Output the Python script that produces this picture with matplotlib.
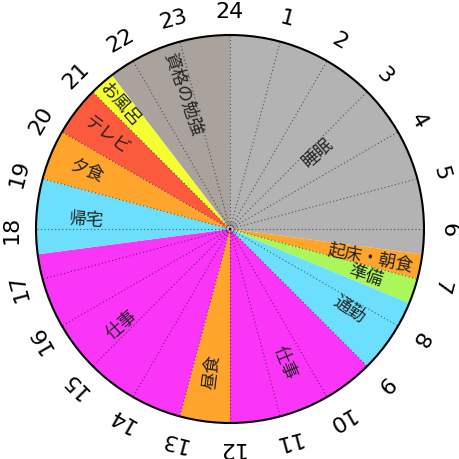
import numpy as np
import matplotlib
matplotlib.use("Agg")
import matplotlib.pyplot as plt
from matplotlib.patches import Circle

# 一日の予定 (時間)
activities = ["睡眠", "起床・朝食", "準備", "通勤", "仕事", "昼食",
              "仕事", "帰宅", "夕食", "テレビ", "お風呂", "資格の勉強"]
hours = [6.5, 0.5, 0.5, 1.5, 3, 1, 4.5, 1.5, 1, 1, 0.5, 2.5]
hour_labels = [str(h) for h in range(1, 25)]

colors = ["#b3b3b3", "#ffa52b", "#aaf75a", "#6cdffc", "#fb35f7", "#ffa52b",
          "#fb35f7", "#6cdffc", "#ffa52b", "#fb5a3c", "#f5ff30", "#aaa29c"]

# ラベル位置 (半径比)
label_r = {0: 0.60, 9: 0.80, 8: 0.80, 10: 0.86}

R_PX = 194.0
lim = 230.0 / R_PX

fig = plt.figure(figsize=(4.6, 4.6), dpi=100)
ax = fig.add_axes([0, 0, 1, 1])

ax.pie(hours, colors=colors, startangle=90, counterclock=False, radius=1,
       wedgeprops=dict(linewidth=0))

# 毎時の点線
for h in range(24):
    a = np.deg2rad(90 - 15 * h)
    ax.plot([0, np.cos(a)], [0, np.sin(a)], color="black", alpha=0.55, lw=0.8,
            ls=(0, (1, 2.2)), zorder=3)

ax.add_patch(Circle((0, 0), 1, fill=False, ec="black", lw=1.5, zorder=4))
ax.add_patch(Circle((0, 0), 0.03, fill=False, ec="#666666", lw=0.6,
                    ls=(0, (1, 1)), zorder=4))

# 項目ラベル
start = 0.0
for i, (name, d) in enumerate(zip(activities, hours)):
    mid = start + d / 2
    start += d
    a = np.deg2rad(90 - 15 * mid)
    r = label_r.get(i, 0.74)
    if mid <= 12:
        rot = 90 - 15 * mid
    else:
        rot = 270 - 15 * mid
    ax.text(r * np.cos(a), r * np.sin(a), name, rotation=rot,
            rotation_mode="anchor", ha="center", va="center",
            fontsize=12.5, color="#222222",
            family=["Noto Sans CJK JP", "DejaVu Sans"], zorder=5)

# 時刻ラベル
for h, lab in zip(range(1, 25), hour_labels):
    a = np.deg2rad(90 - 15 * h)
    r = 1.125
    ax.text(r * np.cos(a), r * np.sin(a), lab, rotation=-15 * h,
            rotation_mode="anchor", ha="center", va="center",
            fontsize=16, color="black", family="DejaVu Sans")

ax.set_xlim(-lim, lim)
ax.set_ylim(-lim, lim)
ax.set_aspect("equal")
ax.axis("off")

fig.savefig("out.png", dpi=100, facecolor="white")
